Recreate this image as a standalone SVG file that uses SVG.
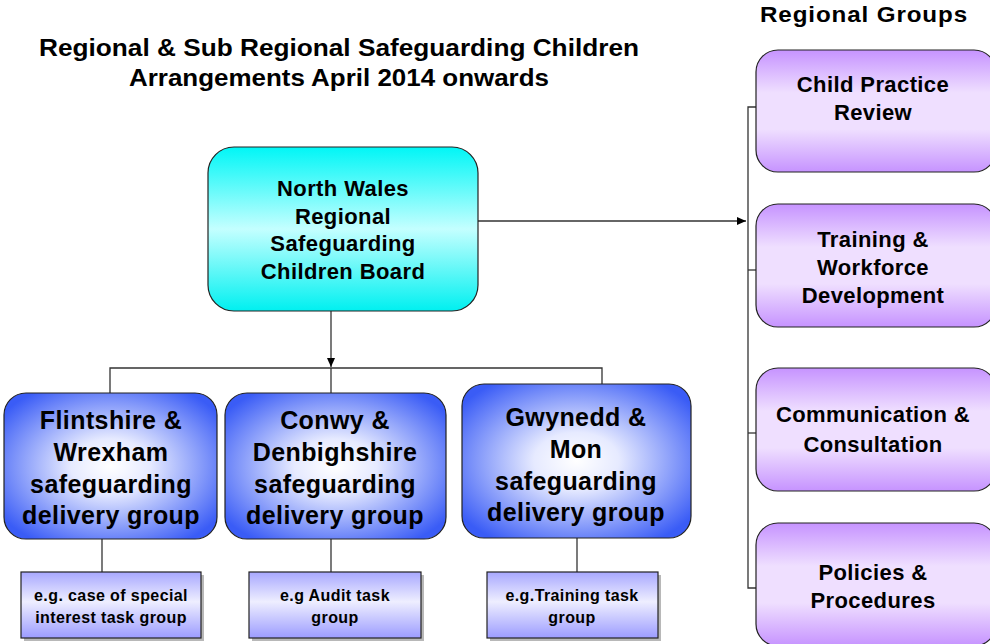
<svg xmlns="http://www.w3.org/2000/svg" width="990" height="644" viewBox="0 0 990 644">
<style>
text{font-family:"Liberation Sans",Arial,sans-serif;font-weight:bold;fill:#000;text-anchor:middle}
.t20{font-size:22px;letter-spacing:0.4px}
.t24{font-size:25px;letter-spacing:0.4px}
.t15{font-size:16px;letter-spacing:0.4px}
.title{font-size:23px}
.hdr{font-size:22px;letter-spacing:0.8px}
.box{stroke:#222;stroke-width:1.2}
.conn{stroke:#333;stroke-width:1.3;fill:none}
</style>
<defs>
<linearGradient id="gCyan" x1="0" y1="0" x2="0" y2="1">
<stop offset="0" stop-color="#00f6f6"/>
<stop offset="0.5" stop-color="#c4ffff"/>
<stop offset="1" stop-color="#00f0f0"/>
</linearGradient>
<radialGradient id="gBlue" cx="0.5" cy="0.5" r="0.62">
<stop offset="0" stop-color="#ffffff"/>
<stop offset="0.3" stop-color="#e6eaff"/>
<stop offset="1" stop-color="#3a5cf6"/>
</radialGradient>
<linearGradient id="gPurple" x1="0" y1="0" x2="0" y2="1">
<stop offset="0" stop-color="#c693ff"/>
<stop offset="0.35" stop-color="#efdfff"/>
<stop offset="0.65" stop-color="#efdfff"/>
<stop offset="1" stop-color="#c693ff"/>
</linearGradient>
<linearGradient id="gTask" x1="0" y1="0" x2="0" y2="1">
<stop offset="0" stop-color="#a8a8ff"/>
<stop offset="0.45" stop-color="#eeeeff"/>
<stop offset="1" stop-color="#9c9cff"/>
</linearGradient>
<marker id="arr" markerWidth="10" markerHeight="10" refX="9" refY="5" orient="auto" markerUnits="userSpaceOnUse">
<path d="M0,1 L9,5 L0,9 Z" fill="#000"/>
</marker>
</defs>

<text class="title" x="339" y="56" textLength="600" lengthAdjust="spacingAndGlyphs">Regional  &amp; Sub Regional Safeguarding Children</text>
<text class="title" x="339" y="86" textLength="420" lengthAdjust="spacingAndGlyphs">Arrangements April 2014 onwards</text>
<text class="hdr" x="864" y="22" textLength="208" lengthAdjust="spacingAndGlyphs">Regional Groups</text>

<g id="connectors">
<line class="conn" x1="478" y1="221" x2="746" y2="221" marker-end="url(#arr)"/>
<polyline class="conn" points="756,107 748,107 748,588 756,588"/>
<line class="conn" x1="748" y1="270" x2="756" y2="270"/>
<line class="conn" x1="748" y1="433" x2="756" y2="433"/>
<line class="conn" x1="331" y1="311" x2="331" y2="367" marker-end="url(#arr)"/>
<polyline class="conn" points="110,393 110,368 602,368 602,384"/>
<line class="conn" x1="331" y1="368" x2="331" y2="393"/>
<line class="conn" x1="102" y1="539" x2="102" y2="572"/>
<line class="conn" x1="331" y1="539" x2="331" y2="572"/>
<line class="conn" x1="577" y1="538" x2="577" y2="572"/>
</g>

<g id="main">
<rect class="box" x="208" y="147" width="270" height="164" rx="26" fill="url(#gCyan)"/>
<text class="t20" x="343" y="196">North Wales</text>
<text class="t20" x="343" y="224">Regional</text>
<text class="t20" x="343" y="251">Safeguarding</text>
<text class="t20" x="343" y="279">Children Board</text>
</g>

<g id="flintshire">
<rect class="box" x="4" y="393" width="213" height="146" rx="22" fill="url(#gBlue)"/>
<text class="t24" x="111" y="429">Flintshire &amp;</text>
<text class="t24" x="111" y="461">Wrexham</text>
<text class="t24" x="111" y="493">safeguarding</text>
<text class="t24" x="111" y="524">delivery group</text>
</g>

<g id="conwy">
<rect class="box" x="225" y="393" width="221" height="146" rx="22" fill="url(#gBlue)"/>
<text class="t24" x="335" y="429">Conwy &amp;</text>
<text class="t24" x="335" y="461">Denbighshire</text>
<text class="t24" x="335" y="493">safeguarding</text>
<text class="t24" x="335" y="524">delivery group</text>
</g>

<g id="gwynedd">
<rect class="box" x="462" y="384" width="229" height="154" rx="22" fill="url(#gBlue)"/>
<text class="t24" x="576" y="426">Gwynedd &amp;</text>
<text class="t24" x="576" y="458">Mon</text>
<text class="t24" x="576" y="490">safeguarding</text>
<text class="t24" x="576" y="521">delivery group</text>
</g>

<g id="task1">
<rect x="24" y="575" width="180" height="66" fill="#888" opacity="0.6"/>
<rect class="box" x="21" y="572" width="180" height="66" fill="url(#gTask)"/>
<text class="t15" x="111" y="601">e.g. case of special</text>
<text class="t15" x="111" y="623">interest task group</text>
</g>

<g id="task2">
<rect x="252" y="575" width="172" height="66" fill="#888" opacity="0.6"/>
<rect class="box" x="249" y="572" width="172" height="66" fill="url(#gTask)"/>
<text class="t15" x="335" y="601">e.g Audit task</text>
<text class="t15" x="335" y="623">group</text>
</g>

<g id="task3">
<rect x="490" y="575" width="171" height="66" fill="#888" opacity="0.6"/>
<rect class="box" x="487" y="572" width="171" height="66" fill="url(#gTask)"/>
<text class="t15" x="572" y="601">e.g.Training task</text>
<text class="t15" x="572" y="623">group</text>
</g>

<g id="child-practice">
<rect class="box" x="756" y="50" width="240" height="122" rx="22" fill="url(#gPurple)"/>
<text class="t20" x="873" y="92">Child Practice</text>
<text class="t20" x="873" y="120">Review</text>
</g>

<g id="training">
<rect class="box" x="756" y="204" width="240" height="123" rx="22" fill="url(#gPurple)"/>
<text class="t20" x="873" y="247">Training &amp;</text>
<text class="t20" x="873" y="275">Workforce</text>
<text class="t20" x="873" y="303">Development</text>
</g>

<g id="communication">
<rect class="box" x="756" y="368" width="240" height="123" rx="22" fill="url(#gPurple)"/>
<text class="t20" x="873" y="422">Communication &amp;</text>
<text class="t20" x="873" y="452">Consultation</text>
</g>

<g id="policies">
<rect class="box" x="756" y="523" width="240" height="123" rx="22" fill="url(#gPurple)"/>
<text class="t20" x="873" y="580">Policies &amp;</text>
<text class="t20" x="873" y="608">Procedures</text>
</g>
</svg>
